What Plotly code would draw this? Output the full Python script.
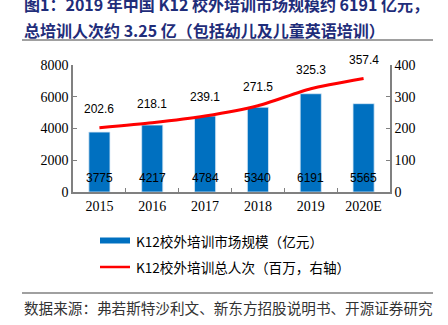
import plotly.graph_objects as go

years = ["2015", "2016", "2017", "2018", "2019", "2020E"]
market_size = [3775, 4217, 4784, 5340, 6191, 5565]
trainees = [202.6, 218.1, 239.1, 271.5, 325.3, 357.4]
left_ticks = [0, 2000, 4000, 6000, 8000]
right_ticks = [0, 100, 200, 300, 400]

title_line1 = "图1：2019 年中国 K12 校外培训市场规模约 6191 亿元，"
title_line2 = "总培训人次约 3.25 亿（包括幼儿及儿童英语培训）"
legend_bar = "K12校外培训市场规模（亿元）"
legend_line = "K12校外培训总人次（百万，右轴）"
source = "数据来源：弗若斯特沙利文、新东方招股说明书、开源证券研究"

W, H = 448, 325
L, R, T, B = 73, 390, 65, 192

def px(x):
    return (x - L) / (R - L)

def py(y):
    return (B - y) / (B - T)

CJK = "Noto Sans CJK SC"
SERIF = "Liberation Serif, Times New Roman, serif"
SANS = "Liberation Sans, Arial, sans-serif"
AXC = "#808080"

fig = go.Figure()
fig.add_trace(go.Bar(
    x=years, y=market_size, width=0.4,
    marker=dict(color="#0070C0", line=dict(color="#d9e8f5", width=0.8)),
    showlegend=False, hoverinfo="skip",
))
fig.add_trace(go.Scatter(
    x=years, y=trainees, yaxis="y2", mode="lines",
    line=dict(color="#FF0000", width=3, shape="spline", smoothing=0.6),
    showlegend=False, hoverinfo="skip",
))

ann = []
for i, v in enumerate(market_size):
    ann.append(dict(x=i, y=0, xref="x", yref="y", text=str(v), showarrow=False,
                    yshift=14, font=dict(family=SANS, size=12, color="#000000")))
for i, v in enumerate(trainees):
    ann.append(dict(x=i, y=v, xref="x", yref="y2", text=f"{v:.1f}", showarrow=False,
                    yshift=19, font=dict(family=SANS, size=12, color="#000000")))

ann += [
    dict(x=px(22), y=py(4), xref="paper", yref="paper", xanchor="left", yanchor="middle",
         text=f"<b>{title_line1}</b>", showarrow=False,
         font=dict(family=CJK, size=16, color="#1F2D7A")),
    dict(x=px(22), y=py(30), xref="paper", yref="paper", xanchor="left", yanchor="middle",
         text=f"<b>{title_line2}</b>", showarrow=False,
         font=dict(family=CJK, size=16, color="#1F2D7A")),
    dict(x=px(134), y=py(241), xref="paper", yref="paper", xanchor="left", yanchor="middle",
         text=legend_bar, showarrow=False, font=dict(family=CJK, size=13.6, color="#000000")),
    dict(x=px(134), y=py(267), xref="paper", yref="paper", xanchor="left", yanchor="middle",
         text=legend_line, showarrow=False, font=dict(family=CJK, size=13.6, color="#000000")),
    dict(x=px(22), y=py(307), xref="paper", yref="paper", xanchor="left", yanchor="middle",
         text=source, showarrow=False, font=dict(family=CJK, size=14.6, color="#333333")),
]

shapes = [
    dict(type="line", xref="paper", yref="paper", x0=px(22), x1=px(433), y0=py(40), y1=py(40),
         line=dict(color="#808080", width=1.5)),
    dict(type="rect", xref="paper", yref="paper", x0=px(100), x1=px(130), y0=py(237.5), y1=py(243.5),
         fillcolor="#0070C0", line=dict(width=0)),
    dict(type="line", xref="paper", yref="paper", x0=px(100), x1=px(130), y0=py(267), y1=py(267),
         line=dict(color="#FF0000", width=2.5)),
    dict(type="line", xref="paper", yref="paper", x0=px(22), x1=px(433), y0=py(293), y1=py(293),
         line=dict(color="#808080", width=1.5)),
]

fig.update_layout(
    width=W, height=H,
    margin=dict(l=L, r=W - R, t=T, b=H - B, autoexpand=False),
    paper_bgcolor="white", plot_bgcolor="white",
    bargap=0.6,
    xaxis=dict(type="category", range=[-0.5, 5.5], showgrid=False, showline=True,
               linecolor=AXC, linewidth=1.5, ticks="inside", ticklen=4, tickcolor=AXC,
               tickson="boundaries",
               tickfont=dict(family=SERIF, size=14, color="#000000")),
    yaxis=dict(range=[0, 8000], tickvals=left_ticks, showgrid=False, showline=True,
               linecolor=AXC, linewidth=1.5, ticks="inside", ticklen=4, tickcolor=AXC,
               zeroline=False, tickfont=dict(family=SERIF, size=14, color="#000000")),
    yaxis2=dict(range=[0, 400], tickvals=right_ticks, overlaying="y", side="right",
                showgrid=False, showline=True, linecolor=AXC, linewidth=1.5,
                ticks="inside", ticklen=4, tickcolor=AXC, zeroline=False,
                tickfont=dict(family=SERIF, size=14, color="#000000")),
    annotations=ann, shapes=shapes,
)

fig.write_html("out.html")
